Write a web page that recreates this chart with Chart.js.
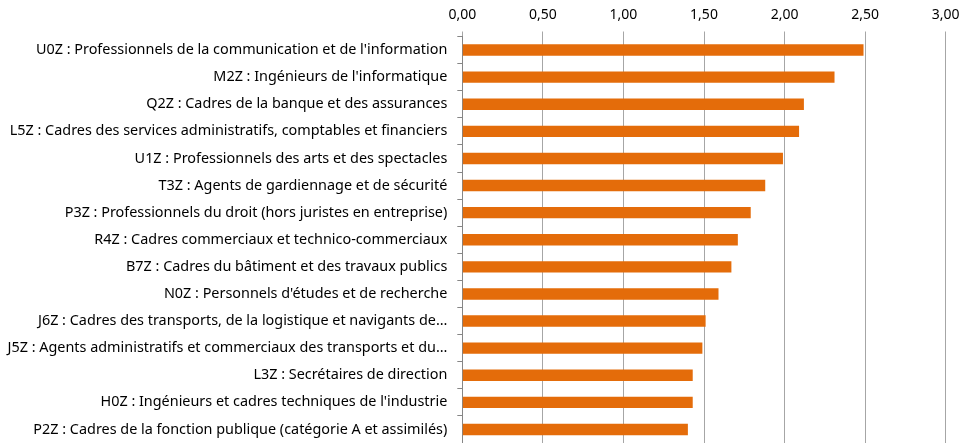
<!DOCTYPE html>
<html>
<head>
<meta charset="utf-8">
<script src="https://cdn.jsdelivr.net/npm/chart.js@4/dist/chart.umd.min.js"></script>
<style>
  html, body { margin: 0; padding: 0; background: #fff; }
  #wrap { width: 962px; height: 443px; position: relative; }
</style>
</head>
<body>
<div id="wrap"><canvas id="chart"></canvas></div>
<script>
// Categories (top to bottom)
let categories = [
  "U0Z : Professionnels de la communication et de l'information",
  "M2Z : Ingénieurs de l'informatique",
  "Q2Z : Cadres de la banque et des assurances",
  "L5Z : Cadres des services administratifs, comptables et financiers",
  "U1Z : Professionnels des arts et des spectacles",
  "T3Z : Agents de gardiennage et de sécurité",
  "P3Z : Professionnels du droit (hors juristes en entreprise)",
  "R4Z : Cadres commerciaux et technico-commerciaux",
  "B7Z : Cadres du bâtiment et des travaux publics",
  "N0Z : Personnels d'études et de recherche",
  "J6Z : Cadres des transports, de la logistique et navigants de…",
  "J5Z : Agents administratifs et commerciaux des transports et du…",
  "L3Z : Secrétaires de direction",
  "H0Z : Ingénieurs et cadres techniques de l'industrie",
  "P2Z : Cadres de la fonction publique (catégorie A et assimilés)"
];

// Values
let values = [2.49, 2.31, 2.12, 2.09, 1.99, 1.88, 1.79, 1.71, 1.67, 1.59, 1.51, 1.49, 1.43, 1.43, 1.40];

// Axis range
let xMin = 0, xMax = 3, xStep = 0.5;

let fontFamily = "'Noto Sans', 'Open Sans', sans-serif";

let ctx = document.getElementById("chart").getContext("2d");

new Chart(ctx, {
  type: 'bar',
  data: {
    labels: categories,
    datasets: [{
      data: values,
      backgroundColor: '#E46C0A',
      borderWidth: 0,
      barPercentage: 0.42,
      categoryPercentage: 1
    }]
  },
  options: {
    indexAxis: 'y',
    responsive: true,
    maintainAspectRatio: false,
    animation: false,
    layout: { padding: { top: 0, right: 16.3, bottom: 0, left: 0 } },
    plugins: { legend: { display: false }, tooltip: { enabled: false } },
    scales: {
      x: {
        position: 'top',
        min: xMin,
        max: xMax,
        ticks: {
          stepSize: xStep,
          padding: 8,
          color: '#000',
          font: { family: fontFamily, size: 14 },
          callback: v => v.toFixed(2).replace('.', ',')
        },
        grid: {
          color: '#A6A6A6',
          lineWidth: 1,
          tickLength: 5,
          drawTicks: true
        },
        border: { display: false },
        afterFit: s => { s.height = 36.5; s.paddingLeft = 0; s.paddingRight = 0; }
      },
      y: {
        ticks: {
          padding: 10,
          color: '#000',
          autoSkip: false,
          font: { family: fontFamily, size: 14.4 }
        },
        grid: {
          offset: true,
          drawOnChartArea: false,
          drawTicks: true,
          tickLength: 5,
          color: '#868686'
        },
        border: { display: true, color: '#868686', width: 1 },
        afterFit: s => { s.width = 462.3; s.paddingTop = 0; s.paddingBottom = 0; }
      }
    }
  }
});
</script>
</body>
</html>
